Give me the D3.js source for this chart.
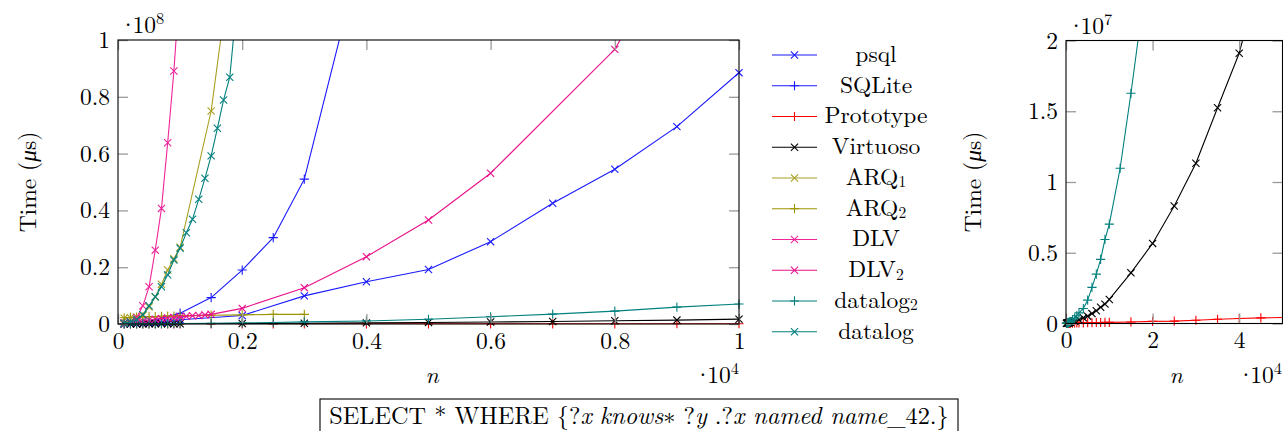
<!DOCTYPE html>
<html><head><meta charset="utf-8">
<script src="https://cdn.jsdelivr.net/npm/d3@7"></script>
<style>
body{margin:0;background:#fff}
svg{display:block}
</style>
</head><body>
<svg id="c" width="1283" height="431"></svg>
<script>
// ---- data (n = problem size, time in seconds; 1 s = 1e6 µs) ----
const psqlN = [100,200,300,400,500,600,700,800,900,1000,2000,3000,4000,5000,6000,7000,8000,9000,10000];
const psqlT = [0.1,0.15,0.2,0.25,0.3,0.4,0.5,0.6,0.8,1.5,3.0,9.9,14.9,19.2,29.0,42.5,54.5,69.5,88.5];
const sqliteN = [100,200,300,400,500,1000,1500,2000,2500,3000,4000];
const sqliteT = [0.1,0.2,0.4,0.6,0.9,3.8,9.3,19.0,30.4,51.0,138];
const protoN = [100,200,300,400,500,600,700,800,900,1000,1500,2000,2500,3000,4000,5000,6000,7000,8000,9000,10000,15000,20000,25000,30000,35000,40000,45000,50000];
const protoT = [0.01,0.01,0.01,0.02,0.02,0.02,0.02,0.03,0.03,0.03,0.03,0.04,0.04,0.05,0.05,0.06,0.06,0.07,0.07,0.08,0.08,0.11,0.15,0.17,0.23,0.30,0.35,0.40,0.42];
const virtN = [100,200,300,400,500,600,700,800,900,1000,2000,3000,4000,5000,6000,7000,8000,9000,10000,15000,20000,25000,30000,35000,40000,45000];
const virtT = [0.01,0.02,0.03,0.04,0.05,0.05,0.06,0.07,0.08,0.09,0.16,0.26,0.4,0.52,0.7,0.9,1.15,1.37,1.7,3.58,5.66,8.3,11.32,15.25,19.1,25.0];
const arq1N = [100,200,300,400,500,600,700,800,900,1000,1500,2000];
const arq1T = [2.0,2.2,2.5,3.0,6.0,9.5,14.0,19.0,23.0,27.0,75.0,157];
const arq2N = [100,200,300,400,500,600,700,800,900,1000,1500,2000,2500,3000];
const arq2T = [2.2,2.3,2.4,2.5,2.6,2.6,2.7,2.8,2.8,2.9,3.1,3.2,3.4,3.4];
const dlvN = [100,200,300,400,500,600,700,800,900,1000];
const dlvT = [0.3,0.8,2.2,6.4,13.1,26.0,40.7,63.8,89.1,121];
const dlv2N = [100,200,300,400,500,600,700,800,900,1000,1100,1200,1300,1400,1500,2000,3000,4000,5000,6000,8000,9000];
const dlv2T = [0.4,0.6,0.9,1.1,1.4,1.7,1.9,2.1,2.3,2.5,2.7,2.9,3.0,3.2,3.4,5.5,12.8,23.7,36.6,53.1,96.7,135];
const datalog2N = [100,200,300,400,500,600,700,800,900,1000,1500,2000,2500,3000,4000,5000,6000,7000,8000,9000,10000,12500,15000,17500];
const datalog2T = [0.01,0.02,0.03,0.04,0.05,0.06,0.08,0.1,0.12,0.14,0.25,0.38,0.55,0.75,1.06,1.65,2.55,3.49,4.53,5.94,7.02,10.97,16.27,22.0];
const datalogN = [100,200,300,400,500,600,700,800,900,1000,1100,1200,1300,1400,1500,1600,1700,1800,1900];
const datalogT = [0.3,0.7,1.6,3.3,6.4,9.6,13.1,17.3,22.5,26.7,32.1,36.9,43.9,51.3,59.2,68.9,78.9,86.9,110];

const seriesNames = ["psql","SQLite","Prototype","Virtuoso","ARQ","ARQ","DLV","DLV","datalog","datalog"];
const seriesSubs  = ["","","","","1","2","","2","2",""];
const seriesColors = ["#1a1aff","#1a1aff","#ff0000","#000000","#a89f22","#9c9300","#f0259a","#e8108a","#00807e","#00807e"];
const seriesMarkers = ["x","+","+","x","x","+","x","x","+","x"];
const seriesN = [psqlN,sqliteN,protoN,virtN,arq1N,arq2N,dlvN,dlv2N,datalog2N,datalogN];
const seriesT = [psqlT,sqliteT,protoT,virtT,arq1T,arq2T,dlvT,dlv2T,datalog2T,datalogT];

const leftXTicks = [0,2000,4000,6000,8000,10000];
const leftYTicks = [0,20,40,60,80,100];
const rightXTicks = [0,20000,40000];
const rightYTicks = [0,5,10,15,20];
const rightSeries = [2,3,8];

// ---- pick an installed serif font ----
function fontAvailable(name) {
  const c = document.createElement("canvas").getContext("2d");
  const s = "mmmmmmmmmmlliWQ0.8Prototype";
  for (const base of ["monospace", "sans-serif"]) {
    c.font = `40px ${base}`; const w0 = c.measureText(s).width;
    c.font = `40px "${name}", ${base}`; const w1 = c.measureText(s).width;
    if (Math.abs(w0 - w1) > 0.5) return true;
  }
  return false;
}
const candidates = ["Latin Modern Roman","CMU Serif","Liberation Serif","DejaVu Serif","Noto Serif","Tinos","Times New Roman","Nimbus Roman","FreeSerif","Times","Georgia","serif"];
let FONT = "serif";
for (const f of candidates) { if (f === "serif" || fontAvailable(f)) { FONT = f === "serif" ? "serif" : `"${f}", serif`; break; } }
const isDejaVu = FONT.includes("DejaVu");
const FS = isDejaVu ? 21 : 23.5;

// ---- drawing ----
const svg = d3.select("#c").attr("font-family", FONT);

function markerPath(type, s) {
  if (type === "x") return `M${-s},${-s}L${s},${s}M${-s},${s}L${s},${-s}`;
  return `M${-s},0L${s},0M0,${-s}L0,${s}`;
}
function fmt(v){ return String(+v.toFixed(2)); }

function expLabel(sel, x, y, exp, anchor) {
  const t = sel.append("text").attr("x", x).attr("y", y).attr("font-size", FS).attr("text-anchor", anchor);
  t.append("tspan").attr("letter-spacing", -FS * 0.2).text("·");
  t.append("tspan").text("10");
  t.append("tspan").attr("dy", -9).attr("font-size", FS * 0.7).text(exp);
  return t;
}

function panel(cfg) {
  const {x, y, xTicks, yTicks, xDiv, yDiv, series, id, xExp, yExp} = cfg;
  const [x0, x1] = x.range(), [y0, y1] = y.range();
  const g = svg.append("g");
  g.append("clipPath").attr("id", id).append("rect")
    .attr("x", x0).attr("y", y1).attr("width", x1 - x0).attr("height", y0 - y1);

  const line = d3.line().x(d => x(d[0])).y(d => y(d[1]));
  series.forEach(i => {
    const pts = seriesN[i].map((n, k) => [n, seriesT[i][k]]);
    g.append("path").attr("d", line(pts)).attr("fill", "none")
      .attr("stroke", seriesColors[i]).attr("stroke-width", 1.1)
      .attr("stroke-linejoin", "round")
      .attr("clip-path", `url(#${id})`);
    const vis = pts.filter(p => p[0] <= x.domain()[1] && p[1] <= y.domain()[1]);
    g.append("g").selectAll("path").data(vis).join("path")
      .attr("transform", d => `translate(${x(d[0])},${y(d[1])})`)
      .attr("d", markerPath(seriesMarkers[i], seriesMarkers[i] === "x" ? 3.6 : 4.6))
      .attr("stroke", seriesColors[i]).attr("stroke-width", 1.1).attr("fill", "none");
  });

  const styleAxis = sel => {
    sel.attr("font-family", FONT);
    sel.select(".domain").remove();
    sel.selectAll(".tick line").attr("stroke", "#9a9a9a").attr("stroke-width", 1.3);
    sel.selectAll(".tick text").attr("font-size", FS).attr("fill", "#000");
  };
  g.append("g").attr("transform", `translate(0,${y0})`)
    .call(d3.axisBottom(x).tickValues(xTicks).tickSizeInner(-10).tickSizeOuter(0).tickPadding(8).tickFormat(d => fmt(d / xDiv)))
    .call(styleAxis);
  g.append("g").attr("transform", `translate(0,${y1})`)
    .call(d3.axisTop(x).tickValues(xTicks).tickSizeInner(-10).tickSizeOuter(0).tickFormat(""))
    .call(styleAxis);
  g.append("g").attr("transform", `translate(${x0},0)`)
    .call(d3.axisLeft(y).tickValues(yTicks).tickSizeInner(-10).tickSizeOuter(0).tickPadding(8).tickFormat(d => fmt(d / yDiv)))
    .call(styleAxis);
  g.append("g").attr("transform", `translate(${x1},0)`)
    .call(d3.axisRight(y).tickValues(yTicks).tickSizeInner(-10).tickSizeOuter(0).tickFormat(""))
    .call(styleAxis);

  g.append("rect").attr("x", x0).attr("y", y1).attr("width", x1 - x0).attr("height", y0 - y1)
    .attr("fill", "none").attr("stroke", "#000").attr("stroke-width", 1.1);

  expLabel(g, x0 + 1, y1 - 7, yExp, "start");
  expLabel(g, cfg.xExpX, 383, xExp, "end");
  g.append("text").attr("x", cfg.nX).attr("y", 383).attr("text-anchor", "middle")
    .attr("font-size", FS).attr("font-style", "italic").text("n");
  const yl = g.append("text").attr("transform", `translate(${cfg.ylabX},${(y0 + y1) / 2}) rotate(-90)`)
    .attr("text-anchor", "middle").attr("dy", "0.35em").attr("font-size", FS);
  yl.append("tspan").text("Time (");
  yl.append("tspan").attr("font-style", "italic").text("μ");
  yl.append("tspan").text("s)");
}

panel({
  id: "clipL",
  x: d3.scaleLinear([0, 10000], [118, 739]),
  y: d3.scaleLinear([0, 100], [324, 40]),
  xTicks: leftXTicks, yTicks: leftYTicks, xDiv: 10000, yDiv: 100,
  series: d3.range(seriesNames.length), xExp: "4", yExp: "8",
  xExpX: 739, nX: 432, ylabX: 28
});
panel({
  id: "clipR",
  x: d3.scaleLinear([0, 50000], [1066, 1282.5]),
  y: d3.scaleLinear([0, 20], [323.5, 40.5]),
  xTicks: rightXTicks, yTicks: rightYTicks, xDiv: 10000, yDiv: 10,
  series: rightSeries, xExp: "4", yExp: "7",
  xExpX: 1282, nX: 1176, ylabX: 973
});

// legend
const lg = svg.append("g");
const legY = d3.scaleLinear([0, 9], [55, 331.7]);
seriesNames.forEach((name, i) => {
  const yy = legY(i);
  lg.append("line").attr("x1", 772).attr("x2", 817).attr("y1", yy).attr("y2", yy)
    .attr("stroke", seriesColors[i]).attr("stroke-width", 1.1);
  lg.append("path").attr("transform", `translate(794.5,${yy})`)
    .attr("d", markerPath(seriesMarkers[i], seriesMarkers[i] === "x" ? 3.6 : 4.6))
    .attr("stroke", seriesColors[i]).attr("stroke-width", 1.1).attr("fill", "none");
  const t = lg.append("text").attr("x", 876).attr("y", yy + 7).attr("text-anchor", "middle")
    .attr("font-size", FS);
  t.append("tspan").text(name);
  if (seriesSubs[i]) t.append("tspan").attr("dy", 2.5).attr("font-size", FS * 0.66).text(seriesSubs[i]);
});

// title box
const tt = svg.append("text").attr("x", 639).attr("y", 424).attr("text-anchor", "middle")
  .attr("font-size", FS);
const parts = [["SELECT * WHERE {?",0],["x",1],[" ",0],["knows",1],["∗",0],[" ?",0],["y",1],[" .?",0],["x named name",1],["_42.}",0]];
parts.forEach(p => tt.append("tspan").attr("font-style", p[1] ? "italic" : "normal").text(p[0]));
const w = tt.node().getComputedTextLength();
tt.attr("font-size", FS * 620 / w);
svg.append("rect").attr("x", 320).attr("y", 399).attr("width", 638).attr("height", 50)
  .attr("fill", "none").attr("stroke", "#000").attr("stroke-width", 1.1);
</script>
</body></html>
